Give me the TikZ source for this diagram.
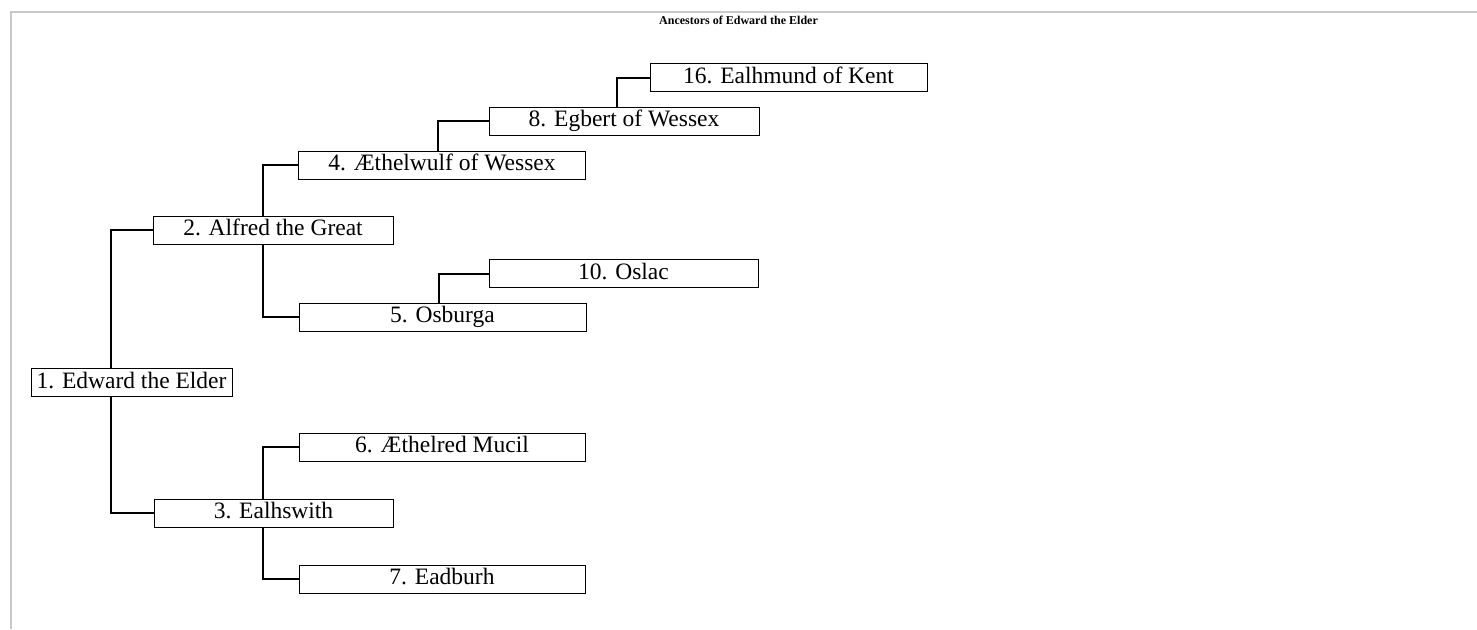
\documentclass[tikz,border=0pt]{standalone}
\usepackage{fontspec}
\setmainfont{Liberation Serif}
\begin{document}
\begin{tikzpicture}[x=0.5pt,y=-0.5pt,
  person/.style={draw=black, line width=0.5pt, inner sep=0pt, minimum height=14pt,
    font=\fontsize{11.75}{14}\selectfont, text height=0.68em, text depth=0.1em, anchor=center},
  link/.style={draw=black, line width=1pt},
  frame/.style={draw={rgb,255:red,200;green,200;blue,200}, line width=1pt}]
\useasboundingbox (0,0) rectangle (1477,629);
\draw[frame] (10.5,629) -- (10.5,11.8) -- (1477,11.8);
\node[font=\fontsize{6}{7}\bfseries] (title) at (738.5,20) {Ancestors of Edward the Elder};
\node[person, minimum width=100.5pt] (p1) at (131.5,382.5) {1. Edward the Elder};
\node[person, minimum width=120pt] (p2) at (273,230) {2. Alfred the Great};
\node[person, minimum width=119.5pt] (p3) at (273.5,513) {3. Ealhswith};
\node[person, minimum width=143.5pt] (p4) at (442,165) {4. Æthelwulf of Wessex};
\node[person, minimum width=143.5pt] (p5) at (442.5,317) {5. Osburga};
\node[person, minimum width=143pt] (p6) at (442,447) {6. Æthelred Mucil};
\node[person, minimum width=143pt] (p7) at (442,579) {7. Eadburh};
\node[person, minimum width=135pt] (p8) at (624,121) {8. Egbert of Wessex};
\node[person, minimum width=134.5pt] (p10) at (623.5,273.5) {10. Oslac};
\node[person, minimum width=138.5pt] (p16) at (788.5,77.5) {16. Ealhmund of Kent};
\draw[link] ([xshift=40pt]p1.north west) |- (p2.west);
\draw[link] ([xshift=40pt]p1.south west) |- (p3.west);
\draw[link] ([xshift=55pt]p2.north west) |- (p4.west);
\draw[link] ([xshift=55pt]p2.south west) |- (p5.west);
\draw[link] ([xshift=54.5pt]p3.north west) |- (p6.west);
\draw[link] ([xshift=54.5pt]p3.south west) |- (p7.west);
\draw[link] ([xshift=70pt]p4.north west) |- (p8.west);
\draw[link] ([xshift=70pt]p5.north west) |- (p10.west);
\draw[link] ([xshift=64pt]p8.north west) |- (p16.west);
\end{tikzpicture}
\end{document}
